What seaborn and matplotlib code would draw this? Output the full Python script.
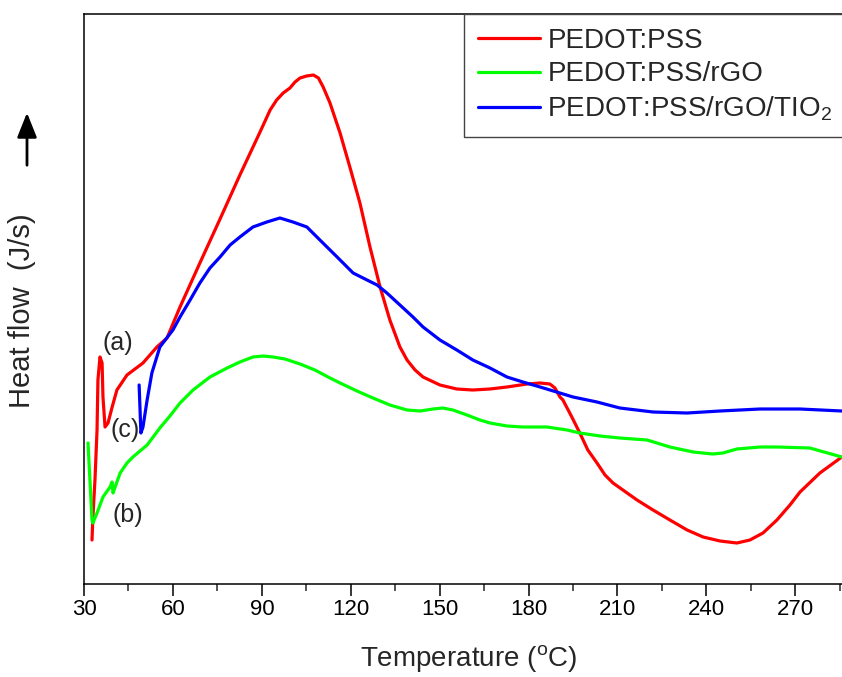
import numpy as np
import pandas as pd
import matplotlib
matplotlib.use("Agg")
import matplotlib.pyplot as plt
import seaborn as sns
from matplotlib.lines import Line2D

# ---------------- data ----------------
red_x = [32.7, 33.0, 33.7, 34.4, 34.7, 35.4, 36.1, 36.4, 37.1, 38.1, 39.5, 41.1, 44.5, 49.9,
         54.6, 58.0, 62.4, 69.1, 75.9, 82.6, 89.4, 92.8, 95.0, 97.2, 99.5, 101.2, 102.9,
         105.1, 107.4, 109.1, 110.7, 113.0, 116.4, 119.7, 123.1, 126.5, 129.9, 133.2, 136.6,
         139.0, 141.7, 144.4, 150.1, 155.8, 161.2, 167.0, 172.7, 179.5, 183.9, 187.2, 188.9,
         190.6, 191.6, 194.6, 197.3, 200.0, 203.1, 205.8, 208.5, 216.6, 222.0, 227.7, 233.5,
         238.9, 244.6, 250.3, 254.7, 259.1, 263.8, 268.2, 271.6, 278.3, 285.7]
red_y = [4.4, 6.7, 10.4, 15.4, 20.4, 22.7, 22.1, 18.7, 15.7, 16.1, 17.7, 19.4, 20.9, 22.1,
         23.7, 24.6, 27.7, 32.1, 36.5, 40.9, 45.2, 47.4, 48.4, 49.1, 49.6, 50.2, 50.6,
         50.8, 50.9, 50.6, 49.7, 48.1, 45.1, 41.7, 38.1, 33.7, 29.7, 26.4, 23.7,
         22.4, 21.4, 20.7, 19.9, 19.5, 19.4, 19.5, 19.7, 20.0, 20.1, 20.0, 19.6,
         18.7, 18.4, 16.7, 15.1, 13.4, 12.1, 10.9, 10.1, 8.4, 7.4, 6.4, 5.4,
         4.7, 4.3, 4.1, 4.4, 5.1, 6.4, 7.9, 9.2, 11.1, 12.7]

green_x = [31.35, 32.0, 32.7, 33.0, 34.4, 36.4, 38.8, 39.45, 39.8, 40.5, 42.2, 44.5, 46.5,
           51.3, 55.6, 59.0, 62.4, 66.8, 72.5, 78.3, 82.6, 87.0, 90.4, 93.8, 97.8, 102.9,
           107.9, 113.0, 116.4, 122.1, 127.5, 133.2, 139.0, 143.4, 147.8, 151.1, 154.5, 159.2,
           163.6, 167.0, 172.7, 178.1, 186.2, 193.0, 197.3, 204.1, 210.8, 220.0, 227.7, 235.5,
           242.2, 245.6, 250.3, 258.1, 263.8, 274.9, 285.7]
green_y = [14.1, 10.4, 6.4, 6.1, 7.1, 8.7, 9.7, 10.2, 9.1, 9.7, 11.1, 12.1, 12.7,
           13.9, 15.6, 16.8, 18.1, 19.4, 20.7, 21.6, 22.2, 22.7, 22.8, 22.7, 22.5, 22.0,
           21.4, 20.6, 20.1, 19.3, 18.6, 17.9, 17.4, 17.3, 17.5, 17.6, 17.4, 16.9,
           16.4, 16.1, 15.8, 15.7, 15.7, 15.4, 15.1, 14.8, 14.6, 14.4, 13.7, 13.2,
           13.0, 13.1, 13.5, 13.7, 13.7, 13.6, 12.7]

blue_x = [48.6, 49.2, 49.9, 51.3, 52.9, 55.6, 60.0, 62.4, 65.8, 69.1, 72.5, 75.9, 79.3, 82.6,
          87.0, 91.7, 96.1, 100.5, 105.2, 109.6, 115.4, 120.8, 125.5, 128.9, 132.2, 136.6,
          141.0, 144.4, 150.1, 155.8, 161.2, 167.0, 172.7, 178.1, 183.9, 195.0, 203.1, 210.8,
          222.0, 233.5, 244.6, 258.1, 271.6, 285.7]
blue_y = [19.9, 15.1, 15.7, 18.4, 21.1, 23.7, 25.4, 26.7, 28.4, 30.1, 31.6, 32.7, 33.9, 34.7,
          35.7, 36.2, 36.6, 36.2, 35.7, 34.4, 32.7, 31.1, 30.4, 29.9, 29.1, 27.9,
          26.7, 25.7, 24.4, 23.4, 22.4, 21.6, 20.7, 20.2, 19.7, 18.7, 18.2, 17.6,
          17.2, 17.1, 17.3, 17.5, 17.5, 17.3]

series_names = ["PEDOT:PSS", "PEDOT:PSS/rGO", "PEDOT:PSS/rGO/TIO$_2$"]
series_colors = ["#FF0000", "#00FF00", "#0000FF"]
x_ticks = [30, 60, 90, 120, 150, 180, 210, 240, 270]
curve_labels = ["(a)", "(b)", "(c)"]
curve_label_x = [41.5, 44.8, 43.8]
curve_label_y = [24.1, 6.9, 15.4]

# ---------------- figure ----------------
sns.set_theme(style="white")
plt.rcParams['font.family'] = ['Liberation Sans', 'DejaVu Sans']
plt.rcParams['mathtext.fontset'] = 'custom'
plt.rcParams['mathtext.rm'] = 'Liberation Sans'
plt.rcParams['mathtext.it'] = 'Liberation Sans'
plt.rcParams['mathtext.bf'] = 'Liberation Sans'

W, H = 842, 677
fig = plt.figure(figsize=(W / 100, H / 100), dpi=100)
ax = fig.add_axes([84 / W, (H - 584) / H, (843 - 84) / W, (584 - 14) / H])

frames = []
for name, xs, ys in zip(series_names, [red_x, green_x, blue_x], [red_y, green_y, blue_y]):
    frames.append(pd.DataFrame({"T": xs, "HF": ys, "sample": name}))
df = pd.concat(frames, ignore_index=True)

sns.lineplot(data=df, x="T", y="HF", hue="sample", palette=dict(zip(series_names, series_colors)),
             sort=False, estimator=None, linewidth=2.3, legend=False, ax=ax)
for ln in ax.lines:
    ln.set_solid_joinstyle('round')
    ln.set_solid_capstyle('round')

ax.set_xlim(30, 286.1)
ax.set_ylim(0, 57)
ax.set_xticks(x_ticks)
ax.set_xticks([45 + 30 * i for i in range(9)], minor=True)
ax.set_yticks([])
ax.tick_params(axis='x', which='major', direction='out', length=8.5, width=1.1,
               labelsize=16, pad=2, colors='black', bottom=True)
ax.tick_params(axis='x', which='minor', direction='out', length=5, width=1.1, bottom=True)
for s in ['left', 'bottom', 'top']:
    ax.spines[s].set_visible(True)
    ax.spines[s].set_color('black')
    ax.spines[s].set_linewidth(1.1)
ax.spines['right'].set_visible(False)

ax.set_xlabel(r"Temperature ($^{\mathrm{o}}$C)", fontsize=20)
ax.xaxis.label.set_va('center')
ax.xaxis.set_label_coords((469 - 84) / 759, (584 - 658) / 570)
ax.set_ylabel("Heat flow  (J/s)", fontsize=21)
ax.yaxis.label.set_va('center')
ax.yaxis.set_label_coords((22 - 84) / 759, (584 - 311) / 570)

for t, lx, ly in zip(curve_labels, curve_label_x, curve_label_y):
    ax.text(lx, ly, t, fontsize=18, ha='center', va='center')

handles = [Line2D([0], [0], color=c, lw=2.3) for c in series_colors]
leg = ax.legend(handles, series_names, loc='upper left',
                bbox_to_anchor=(464 / W, 1 - 14 / H), bbox_transform=fig.transFigure,
                fontsize=20, frameon=True, fancybox=False, framealpha=1,
                edgecolor='#444444', handlelength=2.25, handletextpad=0.25,
                labelspacing=0.27, borderpad=0.5, borderaxespad=0)
leg.get_frame().set_linewidth(1.0)

# arrow beside the y label
fig.patches.append(matplotlib.patches.FancyArrowPatch(
    (27 / W, 1 - 168 / H), (27 / W, 1 - 110 / H), transform=fig.transFigure,
    arrowstyle='-|>,head_width=6,head_length=15', mutation_scale=1,
    color='black', linewidth=2))

fig.savefig("out.png", dpi=100)
